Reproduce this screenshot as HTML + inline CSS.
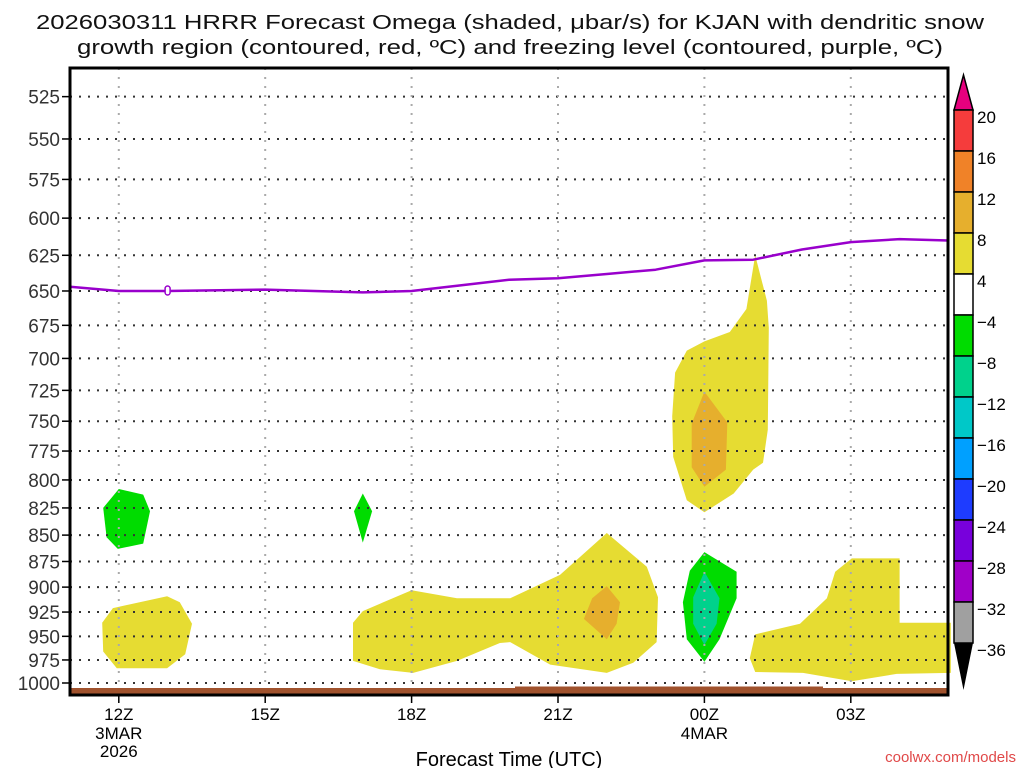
<!DOCTYPE html>
<html><head><meta charset="utf-8"><style>
html,body{margin:0;padding:0;background:#fff;width:1024px;height:768px;overflow:hidden}
svg{display:block;font-family:"Liberation Sans",sans-serif}
</style></head><body>
<svg id="chart" width="1024" height="768">
<text x="510" y="29" font-size="20" text-anchor="middle" textLength="948" lengthAdjust="spacingAndGlyphs" fill="#111">2026030311 HRRR Forecast Omega (shaded, μbar/s) for KJAN with dendritic snow</text>
<text x="510" y="54" font-size="20" text-anchor="middle" textLength="866" lengthAdjust="spacingAndGlyphs" fill="#111">growth region (contoured, red, ºC) and freezing level (contoured, purple, ºC)</text>
<g id="plot"></g>
<g id="cbar"></g>
<text x="509" y="766" font-size="20" text-anchor="middle">Forecast Time (UTC)</text>
<text x="1016" y="762" font-size="15" text-anchor="end" fill="#e04848">coolwx.com/models</text>
</svg>
<script>
const pressureLevels=[525,550,575,600,625,650,675,700,725,750,775,800,825,850,875,900,925,950,975,1000];
const timeTicks=[12,15,18,21,24,27];
const timeLabels=["12Z","15Z","18Z","21Z","00Z","03Z"];
const timeSub1=["3MAR","","","","4MAR",""];
const timeSub2=["2026","","","","",""];
const freezeHours=[11,12,13,15,17,18,19,20,21,22,23,24,25,26,27,28,29.05];
const freezeP=[647,650,650,649,651,650,646,642,641,638,635,628.5,628,621,616,614,615];
// omega regions: [hour, hPa]
const yellowRegions=[
[[11.66,936],[11.88,921],[12.99,909],[13.25,915],[13.5,937],[13.36,969],[12.99,984],[11.96,984],[11.68,966]],
[[16.8,936],[17.0,924],[18.0,903],[18.93,911],[19.81,911],[20.02,911],[21.04,888],[22.0,848],[22.82,880],[23.05,910],[23.02,956],[22.54,978],[22.0,989],[20.84,980],[20.02,956],[19.81,957],[18.93,976],[18.03,989],[17.35,985],[16.8,976]],
[[25.04,625],[25.28,657],[25.32,677],[25.3,757],[25.2,785],[25.0,791],[24.6,812],[24.0,829],[23.64,818],[23.36,780],[23.34,746],[23.4,711],[23.64,694],[24.0,687],[24.52,680],[24.86,663]],
[[25.04,948],[25.96,937],[26.51,911],[26.68,885],[27.02,872],[28.0,872],[28.0,936],[29.05,936],[29.05,989],[27.94,990],[27.02,998],[26.02,989],[25.04,988],[24.93,973]]
];
const orangeRegions=[
[[22.0,899],[22.27,915],[22.2,937],[22.0,953],[21.53,932],[21.7,911]],
[[24.0,726],[24.47,751],[24.44,791],[24.0,806],[23.74,789],[23.74,752]]
];
const greenRegions=[
[[12.0,808],[12.5,813],[12.64,828],[12.5,858],[11.98,863],[11.75,852],[11.68,825]],
[[17.0,812],[17.19,828],[17.0,857],[16.82,828]],
[[24.0,866],[24.66,885],[24.66,911],[24.31,953],[24.0,977],[23.64,953],[23.56,915],[23.7,884]]
];
const tealRegions=[
[[24.0,885],[24.31,911],[24.25,937],[24.0,959],[23.77,937],[23.77,910]]
];
const cbarLabels=["20","16","12","8","4","−4","−8","−12","−16","−20","−24","−28","−32","−36"];
const cbarColors=["#f53c3c","#f08228","#e6af2d","#e6dc32","#ffffff","#00dc00","#00d28c","#00c8c8","#00a0ff","#1e3cff","#7800dc","#a000c8","#a0a0a0"];

const X0=70,X1=948,Y0=68,Y1=695;
const H0=11,PXH=48.8;
function xs(h){return X0+(h-H0)*PXH;}
function ys(p){return 683-910*Math.log(1000/p);}
const NS="http://www.w3.org/2000/svg";
const plot=document.getElementById('plot');
function mk(tag,attrs,parent){const e=document.createElementNS(NS,tag);for(const k in attrs)e.setAttribute(k,attrs[k]);parent.appendChild(e);return e;}
function poly(pts,fill,name){
  const e=mk('polygon',{points:pts.map(q=>xs(q[0]).toFixed(1)+','+ys(q[1]).toFixed(1)).join(' '),fill:fill},plot);
  
  
}
mk('clipPath',{id:'clip'},plot).appendChild(document.createElementNS(NS,'rect'));
const cr=plot.querySelector('#clip rect');cr.setAttribute('x',X0);cr.setAttribute('y',Y0);cr.setAttribute('width',X1-X0);cr.setAttribute('height',Y1-Y0);
yellowRegions.forEach(r=>poly(r,'#e6dc32','omega-4-8-region'));
orangeRegions.forEach(r=>poly(r,'#e6af2d','omega-8-12-region'));
greenRegions.forEach(r=>poly(r,'#00dc00','omega-neg4-neg8-region'));
tealRegions.forEach(r=>poly(r,'#00d28c','omega-neg8-neg12-region'));
// grid
pressureLevels.forEach(p=>{
  const y=ys(p);
  const g=mk('line',{x1:X0,x2:X1,y1:y,y2:y,stroke:'#333','stroke-width':2,'stroke-dasharray':'2 7'},plot);
  
  
  mk('line',{x1:62,x2:X0,y1:y,y2:y,stroke:'#000','stroke-width':1.5},plot);
  const t=mk('text',{x:60,y:y+7,'font-size':19,'text-anchor':'end',fill:'#333'},plot);
  t.textContent=p;
  
  
});
timeTicks.forEach((h,i)=>{
  const x=xs(h);
  const g=mk('line',{x1:x,x2:x,y1:Y0,y2:Y1,stroke:'#aaa','stroke-width':2,'stroke-dasharray':'2 7'},plot);
  
  
  mk('line',{x1:x,x2:x,y1:Y1,y2:Y1+8,stroke:'#000','stroke-width':1.5},plot);
  [[timeLabels[i],720],[timeSub1[i],739],[timeSub2[i],757]].forEach(([s,yy])=>{
    if(!s)return;
    const t=mk('text',{x:x,y:yy,'font-size':17,'text-anchor':'middle'},plot);
    t.textContent=s;
    
    
  });
});
// ground
const gr=mk('rect',{x:X0,y:688,width:X1-X0,height:7,fill:'#a0522d'},plot);


mk('rect',{x:515,y:686.5,width:308,height:3,fill:'#a0522d'},plot);
// freezing line
const fl=mk('polyline',{points:freezeHours.map((h,i)=>xs(h).toFixed(1)+','+ys(freezeP[i]).toFixed(1)).join(' '),fill:'none',stroke:'#9900cc','stroke-width':2.5,'stroke-linejoin':'round','clip-path':'url(#clip)'},plot);


const lx=xs(13),ly=ys(650);
mk('rect',{x:lx-3,y:ly-6,width:6,height:11,fill:'#fff',rx:3},plot);
mk('rect',{x:lx-2.5,y:ly-5,width:5,height:9,fill:'none',stroke:'#9900cc','stroke-width':1.5,rx:2.5},plot);
// frame
const fr=mk('rect',{x:X0,y:Y0,width:X1-X0,height:Y1-Y0,fill:'none',stroke:'#000','stroke-width':3},plot);


// colorbar
const cb=document.getElementById('cbar');
const CX=954,CW=19,CT=110,BH=41;
mk('polygon',{points:`${CX},${CT} ${CX+CW},${CT} ${CX+CW/2},75`,fill:'#e6007e',stroke:'#000','stroke-width':1.5},cb);
cbarColors.forEach((c,i)=>{
  const r=mk('rect',{x:CX,y:CT+i*BH,width:CW,height:BH,fill:c,stroke:'#000','stroke-width':1.5},cb);
  
  
});
const cbB=CT+cbarColors.length*BH;
mk('polygon',{points:`${CX},${cbB} ${CX+CW},${cbB} ${CX+CW/2},690`,fill:'#000'},cb);
cbarLabels.forEach((s,i)=>{
  const t=mk('text',{x:977,y:CT+i*BH+13,'font-size':17},cb);
  t.textContent=s;
  
  
});
</script>
</body></html>
